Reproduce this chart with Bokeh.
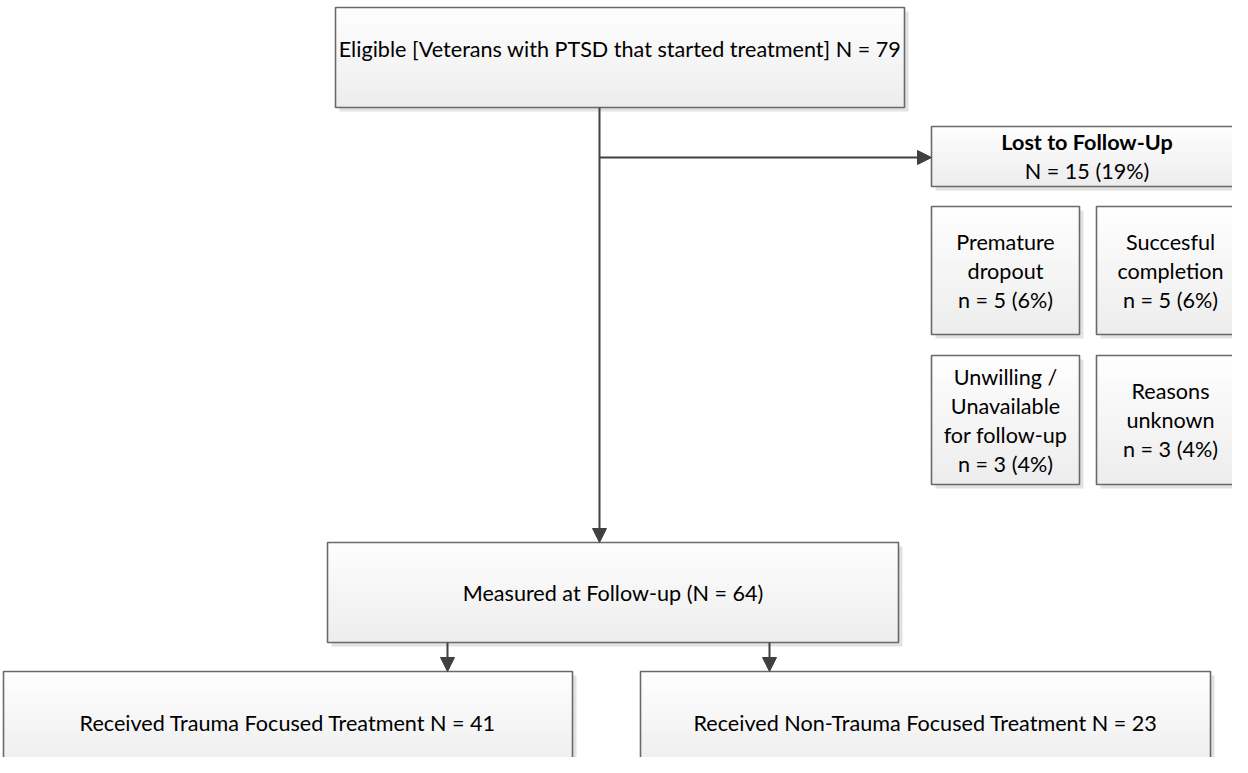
from bokeh.plotting import figure
from bokeh.models import Range1d, Arrow, NormalHead
from bokeh.core.properties import value
from bokeh.embed import file_html
from bokeh.resources import INLINE

# ---------------- data ----------------
eligible_label = "Eligible [Veterans with PTSD that started treatment]"
eligible_n = 79
lost_label = "Lost to Follow-Up"
lost_n = 15
lost_pct = 19
reason_labels = [["Premature", "dropout"],
                 ["Succesful", "completion"],
                 ["Unwilling /", "Unavailable", "for follow-up"],
                 ["Reasons", "unknown"]]
reason_n = [5, 5, 3, 3]
reason_pct = [6, 6, 4, 4]
measured_label = "Measured at Follow-up"
measured_n = 64
group_labels = ["Received Trauma Focused Treatment", "Received Non-Trauma Focused Treatment"]
group_n = [41, 23]

# ---------------- layout (page pixels) ----------------
FONT = "Lato"
FSIZE = "21.6px"
LINE = 29
ARROW_C = "#404040"
BORDER_C = "#6a6a6a"

boxes = []  # (left, right, top, bottom, lines, bold_first, text_center_y)
boxes.append((343, 912, 15, 115, [f"{eligible_label} N = {eligible_n}"], False, 56))
boxes.append((939, 1250, 134, 194, [lost_label, f"N = {lost_n} ({lost_pct}%)"], True, None))
sub_pos = [(939, 1087, 214, 342), (1104, 1252, 214, 342), (939, 1087, 363, 492), (1104, 1252, 363, 492)]
for (l, r, t, b), lab, n, pc in zip(sub_pos, reason_labels, reason_n, reason_pct):
    boxes.append((l, r, t, b, lab + [f"n = {n} ({pc}%)"], False, None))
boxes.append((335, 906, 550, 650, [f"{measured_label} (N = {measured_n})"], False, None))
grp_pos = [(11, 580, 679, 781), (648, 1218, 679, 781)]
for (l, r, t, b), lab, n in zip(grp_pos, group_labels, group_n):
    boxes.append((l, r, t, b, [f"{lab} N = {n}"], False, 730))

p = figure(width=1232, height=757, x_range=Range1d(8, 1240), y_range=Range1d(765, 8),
           x_axis_type=None, y_axis_type=None, toolbar_location=None,
           output_backend="svg", min_border=0)
p.xgrid.visible = False
p.ygrid.visible = False
p.outline_line_color = None
p.background_fill_color = "white"

# shadows
p.quad(left=[b[0] + 4 for b in boxes], right=[b[1] + 4 for b in boxes],
       top=[b[2] + 4 for b in boxes], bottom=[b[3] + 4 for b in boxes],
       fill_color="#e2e2e2", line_color=None)

# gradient fill
NSTRIP = 30
c0 = (254, 254, 254)
c1 = (237, 237, 237)
gl, gr, gt, gb, gc = [], [], [], [], []
for (l, r, t, b, *_rest) in boxes:
    h = (b - t) / NSTRIP
    for i in range(NSTRIP):
        f = i / (NSTRIP - 1)
        col = tuple(int(round(c0[k] + (c1[k] - c0[k]) * f)) for k in range(3))
        gl.append(l); gr.append(r)
        gt.append(t + i * h); gb.append(t + (i + 1) * h + 0.6)
        gc.append("#%02x%02x%02x" % col)
p.quad(left=gl, right=gr, top=gt, bottom=gb, fill_color=gc, line_color=None)

# borders
p.quad(left=[b[0] for b in boxes], right=[b[1] for b in boxes],
       top=[b[2] for b in boxes], bottom=[b[3] for b in boxes],
       fill_color=None, line_color=BORDER_C, line_width=1.6)

# texts
tx, ty, tt, bx, by, bt = [], [], [], [], [], []
for (l, r, t, b, lines, bold_first, cy) in boxes:
    cx = (l + r) / 2
    if cy is None:
        cy = (t + b) / 2
    n = len(lines)
    for i, s in enumerate(lines):
        y = cy + (i - (n - 1) / 2) * LINE
        if bold_first and i == 0:
            bx.append(cx); by.append(y); bt.append(s)
        else:
            tx.append(cx); ty.append(y); tt.append(s)
p.text(x=tx, y=ty, text=tt, text_align="center", text_baseline="middle",
       text_font=value(FONT), text_font_size=value(FSIZE), text_color="#000000")
p.text(x=bx, y=by, text=bt, text_align="center", text_baseline="middle",
       text_font=value(FONT), text_font_size=value(FSIZE), text_font_style="bold",
       text_color="#000000")

# arrows
main_x = 607
arrows = [
    (main_x, boxes[0][3], main_x, 550),
    (main_x, 165, 939, 165),
    (455, 650, 455, 679),
    (777, 650, 777, 679),
]
for (x0, y0, x1, y1) in arrows:
    p.add_layout(Arrow(end=NormalHead(size=14, fill_color=ARROW_C, line_color=ARROW_C),
                       x_start=x0, y_start=y0, x_end=x1, y_end=y1,
                       line_color=ARROW_C, line_width=2))

open("out.html", "w").write(file_html(p, INLINE))
